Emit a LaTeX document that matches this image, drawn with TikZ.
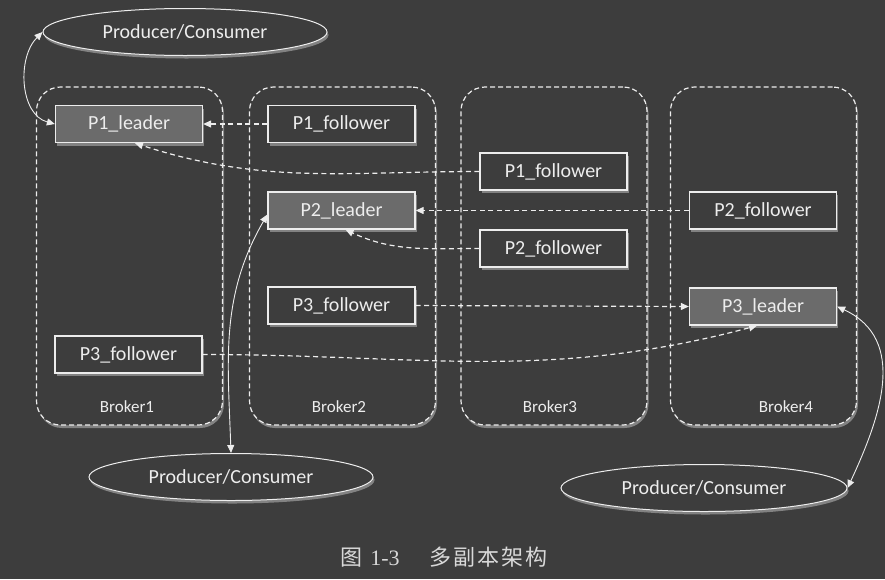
\documentclass[tikz,border=0pt]{standalone}
\usepackage{fontspec}
\setmainfont{Carlito}
\newfontfamily\cjk{Noto Sans CJK SC}
\newfontfamily\capserif{Liberation Serif}
\usetikzlibrary{shapes.geometric,shadows,arrows.meta}
\definecolor{bg}{HTML}{3D3D3D}
\definecolor{fg}{HTML}{EDEDED}
\definecolor{capc}{HTML}{D8D8D8}
\definecolor{lead}{HTML}{6B6B6B}
\definecolor{shade}{HTML}{9A9A9A}
\begin{document}
\begin{tikzpicture}[x=1pt,y=-1pt,
  shad/.style={drop shadow={shadow xshift=1.5pt,shadow yshift=-3pt,fill=shade,opacity=0.75}},
  broker/.style={draw=fg, line width=1.2pt, dash pattern=on 5pt off 3pt, rounded corners=24pt, fill=bg, shad, minimum width=186pt, minimum height=338pt, inner sep=0pt},
  part/.style={draw=fg, line width=1.3pt, fill=bg, minimum width=147pt, minimum height=37pt, font=\fontsize{20}{24}\selectfont, text=fg, inner sep=0pt, shad},
  leader/.style={part, fill=lead},
  pc/.style={ellipse, draw=fg, line width=1pt, fill=bg, minimum width=284pt, minimum height=47pt, font=\fontsize{20}{24}\selectfont, text=fg, inner sep=0pt, shad},
  rep/.style={draw=fg, line width=1.2pt, dash pattern=on 5pt off 3.5pt, -{Triangle[length=8pt,width=7pt]}},
  io/.style={draw=fg, line width=0.9pt, {Triangle[length=8pt,width=7pt]}-{Triangle[length=8pt,width=7pt]}},
  blabel/.style={text=fg, font=\fontsize{17}{20}\selectfont}
]
\fill[bg] (0,0) rectangle (885,579);
\useasboundingbox (0,0) rectangle (885,579);

% brokers
\node[broker] (B1) at (129.5,256) {};
\node[broker] (B2) at (342.5,256) {};
\node[broker] (B3) at (554,256) {};
\node[broker] (B4) at (763.5,256) {};
\node[blabel] (L1) at (127,407) {Broker1};
\node[blabel] (L2) at (339,407) {Broker2};
\node[blabel] (L3) at (550,407) {Broker3};
\node[blabel] (L4) at (786,407) {Broker4};

% partitions
\node[leader] (P1L) at (129,124) {P1\_leader};
\node[part] (P1F2) at (341.5,124) {P1\_follower};
\node[part] (P1F3) at (553.5,171.5) {P1\_follower};
\node[leader] (P2L) at (341.5,210.5) {P2\_leader};
\node[part] (P2F3) at (553.5,248.5) {P2\_follower};
\node[part] (P2F4) at (763,210.5) {P2\_follower};
\node[part] (P3F2) at (341.5,305.5) {P3\_follower};
\node[leader] (P3L) at (763,306.5) {P3\_leader};
\node[part] (P3F1) at (128.5,354.5) {P3\_follower};

% producers/consumers
\node[pc] (E1) at (185,32) {Producer/Consumer};
\node[pc] (E2) at (231,477) {Producer/Consumer};
\node[pc, minimum width=286pt] (E3) at (704,488) {Producer/Consumer};

% replication
\draw[rep] (P1F2.west) -- (P1L.east);
\draw[rep] (P1F3.west) to[out=180,in=-18] ([xshift=6pt]P1L.south);
\draw[rep] (P2F4.west) -- (P2L.east);
\draw[rep] (P2F3.west) to[out=180,in=-25] ([xshift=4pt]P2L.south);
\draw[rep] (P3F2.east) -- (P3L.west);
\draw[rep] (P3F1.east) to[out=0,in=195] ([xshift=-6pt]P3L.south);

% client connections
\draw[io] (E1.west) to[out=225,in=165] (P1L.west);
\draw[io] (E2.north) to[out=92,in=240] ([yshift=-4pt]P2L.west);
\draw[io] (P3L.east) to[out=-25,in=65,looseness=1.1] (E3.east);

% caption
\node[text=capc, font=\fontsize{22}{26}\selectfont] (cap) at (444,557) {{\cjk 图}\hspace{8pt}{\capserif 1-3}\hspace{30pt}{\cjk 多\hspace{2pt}副\hspace{2pt}本\hspace{2pt}架\hspace{2pt}构}};
\end{tikzpicture}
\end{document}
